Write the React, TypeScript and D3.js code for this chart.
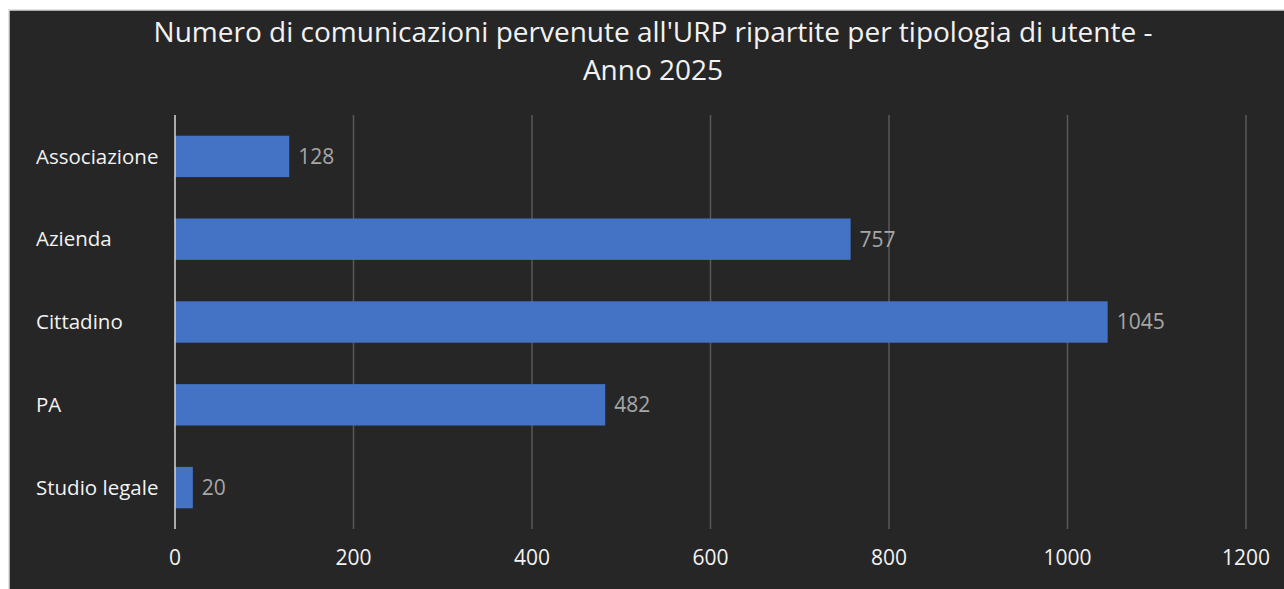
import React from "react";
import * as d3 from "d3";

const categories = ["Associazione", "Azienda", "Cittadino", "PA", "Studio legale"];
const values = [128, 757, 1045, 482, 20];
const xTicks = [0, 200, 400, 600, 800, 1000, 1200];
const titleLines = [
  "Numero di comunicazioni pervenute all'URP ripartite per tipologia di utente -",
  "Anno 2025",
];

export default function App() {
  const W = 1284, H = 589;
  const left = 175, right = 1246, top = 115, bottom = 529;
  const x = d3.scaleLinear().domain([0, 1200]).range([left, right]);
  const y = d3.scaleBand<string>().domain(categories).range([top, bottom]).paddingInner(0.5).paddingOuter(0.25);
  const font = "'Open Sans', 'DejaVu Sans', sans-serif";
  return (
    <svg width={W} height={H} style={{ position: "absolute", left: 0, top: 0, background: "#fff" }}>
      <rect x={9} y={10} width={W + 10} height={H + 10} fill="#262626" stroke="#d9d9d9" strokeWidth={1.5} />
      {titleLines.map((t, i) => (
        <text key={i} x={653} y={42 + i * 38} textAnchor="middle" fill="#f2f2f2" fontSize={28} fontFamily={font}>{t}</text>
      ))}
      {xTicks.map((t) => (
        <g key={t}>
          {t !== 0 && <line x1={x(t)} x2={x(t)} y1={top} y2={bottom} stroke="#595959" strokeWidth={1.5} />}
          <text x={x(t)} y={558} dy="0.35em" textAnchor="middle" fill="#f2f2f2" fontSize={21} fontFamily={font}>{t}</text>
        </g>
      ))}
      {categories.map((c, i) => {
        const yc = (y(c) as number) + y.bandwidth() / 2;
        return (
          <g key={c}>
            <rect x={x(0)} y={y(c)} width={x(values[i]) - x(0)} height={y.bandwidth()} fill="#4472C4" />
            <text x={x(values[i]) + 9} y={yc} dy="0.35em" fill="#a6a6a6" fontSize={21} fontFamily={font}>{values[i]}</text>
            <text x={36} y={yc} dy="0.35em" fill="#f2f2f2" fontSize={20.5} fontFamily={font}>{c}</text>
          </g>
        );
      })}
      <line x1={x(0)} x2={x(0)} y1={top} y2={bottom} stroke="#d9d9d9" strokeWidth={1.5} />
    </svg>
  );
}
